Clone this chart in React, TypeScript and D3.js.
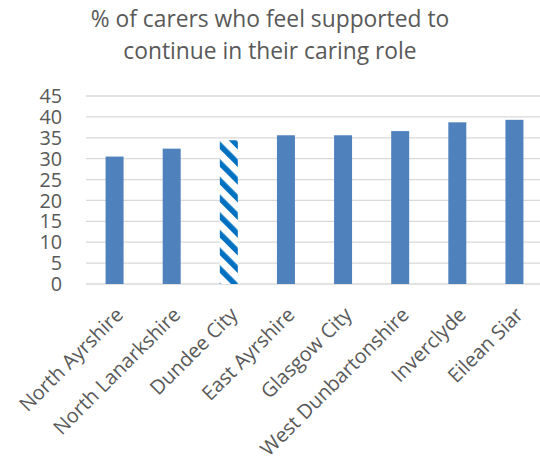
import React from "react";
import * as d3 from "d3";

const categories = [
  "North Ayrshire",
  "North Lanarkshire",
  "Dundee City",
  "East Ayrshire",
  "Glasgow City",
  "West Dunbartonshire",
  "Inverclyde",
  "Eilean Siar",
];
const values = [30.5, 32.4, 34.4, 35.6, 35.6, 36.6, 38.7, 39.3];
const highlighted = ["Dundee City"];
const yTicks = [0, 5, 10, 15, 20, 25, 30, 35, 40, 45];
const titleLines = ["% of carers who feel supported to", "continue in their caring role"];

const W = 540;
const H = 466;
const FONT = "'Open Sans', 'Noto Sans', sans-serif";
const TEXT = "#595959";

export default function App() {
  const x = d3.scaleBand<string>().domain(categories).range([86, 543]).paddingInner(0.685).paddingOuter(0.3425);
  const y = d3.scaleLinear().domain([0, 45]).range([284, 96]);

  return (
    <svg width={W} height={H} style={{ position: "absolute", left: 0, top: 0, background: "#fff" }}>
      <defs>
        <pattern id="hatch" patternUnits="userSpaceOnUse" width={12.5} height={12.5} patternTransform="rotate(-45)">
          <rect x={0} y={0} width={12.5} height={12.5} fill="#fff" />
          <rect x={0} y={0} width={5.5} height={12.5} fill="#0070C0" />
        </pattern>
      </defs>
      <rect x={0} y={0} width={W} height={H} fill="#fff" />
      {titleLines.map((t, i) => (
        <text key={i} x={270} y={27 + i * 32} textAnchor="middle" fontFamily={FONT} fontSize={22.8} fill={TEXT}>
          {t}
        </text>
      ))}
      {yTicks.map((t) => (
        <g key={t}>
          <line x1={86} x2={543} y1={y(t)} y2={y(t)} stroke="#d9d9d9" strokeWidth={1.3} />
          <text x={62} y={y(t)} dy="0.36em" textAnchor="end" fontFamily={FONT} fontSize={19.8} fill={TEXT}>
            {t}
          </text>
        </g>
      ))}
      {categories.map((c, i) => (
        <rect
          key={c}
          x={x(c)}
          y={y(values[i])}
          width={x.bandwidth()}
          height={y(0) - y(values[i])}
          fill={highlighted.includes(c) ? "url(#hatch)" : "#4F81BD"}
        />
      ))}
      {categories.map((c) => {
        const cx = (x(c) as number) + x.bandwidth() / 2 + 5;
        return (
          <text
            key={c}
            transform={`translate(${cx},311) rotate(-45)`}
            dy="0.35em"
            textAnchor="end"
            fontFamily={FONT}
            fontSize={20}
            fill={TEXT}
          >
            {c}
          </text>
        );
      })}
    </svg>
  );
}
